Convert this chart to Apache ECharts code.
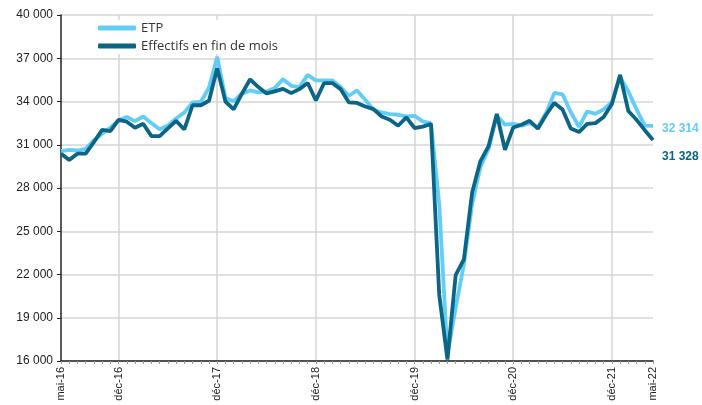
<!DOCTYPE html>
<html>
<head>
<meta charset="utf-8">
<script src="https://cdn.jsdelivr.net/npm/echarts@6/dist/echarts.min.js"></script>
<style>
  html, body { margin: 0; padding: 0; background: #fff; }
  #chart { width: 702px; height: 405px; }
</style>
</head>
<body>
<div id="chart"></div>
<script>
// months mai-16 .. mai-22
const monthNames = ['janv', 'févr', 'mars', 'avr', 'mai', 'juin', 'juil', 'août', 'sept', 'oct', 'nov', 'déc']
const startYear = 16
const startMonth = 4 // mai
const monthCount = 73

const etp = [
  30560, 30650, 30600, 30720, 31300, 31760, 32180, 32690, 32920, 32640,
  32960, 32500, 32080, 32330, 32820, 33230, 33940, 33970, 34960, 37100,
  34250, 34020, 34540, 34770, 34640, 34700, 34930, 35550, 35090, 35000,
  35850, 35460, 35460, 35460, 35000, 34400, 34770, 34120, 33430, 33240,
  33130, 33080, 32970, 33000, 32620, 32480, 26900, 16400, 19700, 22700,
  26870, 29450, 30700, 33000, 32400, 32450, 32320, 32500, 32230, 33200,
  34600, 34500, 33250, 32250, 33310, 33140, 33450, 33960, 35700, 34700,
  33450, 32330, 32314
]

const effectifs = [
  30380, 29950, 30380, 30380, 31180, 32040, 31950, 32730, 32600, 32180,
  32460, 31600, 31600, 32130, 32660, 32060, 33740, 33740, 34050, 36300,
  34000, 33460, 34540, 35540, 35000, 34560, 34700, 34880, 34580, 34860,
  35280, 34080, 35280, 35280, 34860, 33940, 33900, 33650, 33470, 32960,
  32730, 32320, 32900, 32160, 32260, 32440, 20600, 16100, 21960, 23050,
  27680, 29850, 30900, 33130, 30650, 32200, 32390, 32660, 32110, 33080,
  33900, 33450, 32120, 31880, 32450, 32500, 32930, 33830, 35850, 33340,
  32730, 32010, 31328
]

const shownLabels = ['mai-16', 'déc-16', 'déc-17', 'déc-18', 'déc-19', 'déc-20', 'déc-21', 'mai-22']

const categories = []
for (let i = 0; i < monthCount; i++) {
  const m = (startMonth + i) % 12
  const y = startYear + Math.floor((startMonth + i) / 12)
  categories.push(monthNames[m] + '-' + y)
}

const LIGHT = '#62CDF7'
const DARK = '#0B6584'
const numFont = "'Liberation Sans Narrow', 'Liberation Sans', Arial, sans-serif"

const fmt = (v) => String(Math.round(v)).replace(/\B(?=(\d{3})+(?!\d))/g, ' ')

const chart = echarts.init(document.getElementById('chart'), null, { renderer: 'canvas' })

chart.setOption({
  animation: false,
  grid: { left: 61, right: 49, top: 15, bottom: 44 },
  legend: {
    orient: 'vertical',
    left: 98,
    top: 20,
    itemWidth: 38,
    itemHeight: 5,
    itemGap: 2,
    icon: 'roundRect',
    backgroundColor: '#fff',
    padding: [0, 6, 0, 0],
    textStyle: { fontFamily: "'Open Sans', sans-serif", fontSize: 13, color: '#333', lineHeight: 16, padding: [0, 0, 0, 0] },
    data: ['ETP', 'Effectifs en fin de mois']
  },
  xAxis: {
    type: 'category',
    data: categories,
    boundaryGap: false,
    axisLine: { lineStyle: { color: '#222', width: 1.5 } },
    axisTick: { show: true, interval: 0, length: 3, lineStyle: { color: '#999' } },
    axisLabel: {
      interval: (i, v) => shownLabels.includes(v),
      rotate: 90,
      margin: 6,
      fontFamily: numFont,
      fontSize: 11,
      color: '#222'
    },
    splitLine: {
      show: true,
      interval: (i, v) => v.startsWith('déc'),
      lineStyle: { color: '#d4d4d4', width: 1.5 }
    }
  },
  yAxis: {
    type: 'value',
    min: 16000,
    max: 40000,
    interval: 3000,
    axisLine: { show: true, lineStyle: { color: '#222', width: 1.5 } },
    axisTick: { show: true, length: 4, lineStyle: { color: '#222' } },
    axisLabel: { formatter: fmt, fontFamily: numFont, fontSize: 12, color: '#222', margin: 8 },
    splitLine: { lineStyle: { color: '#d6d6d6', width: 1.5 } }
  },
  series: [
    {
      name: 'ETP',
      type: 'line',
      data: etp,
      showSymbol: false,
      symbol: 'none',
      lineStyle: { color: LIGHT, width: 3.8 },
      itemStyle: { color: LIGHT },
      endLabel: {
        show: true,
        formatter: (p) => fmt(p.value),
        color: LIGHT,
        fontFamily: numFont,
        fontSize: 12,
        fontWeight: 'bold',
        distance: 3,
        offset: [6, 3]
      }
    },
    {
      name: 'Effectifs en fin de mois',
      type: 'line',
      data: effectifs,
      showSymbol: false,
      symbol: 'none',
      lineStyle: { color: DARK, width: 3.8 },
      itemStyle: { color: DARK },
      endLabel: {
        show: true,
        formatter: (p) => fmt(p.value),
        color: DARK,
        fontFamily: numFont,
        fontSize: 12,
        fontWeight: 'bold',
        distance: 3,
        offset: [6, 17]
      }
    }
  ]
})
</script>
</body>
</html>
